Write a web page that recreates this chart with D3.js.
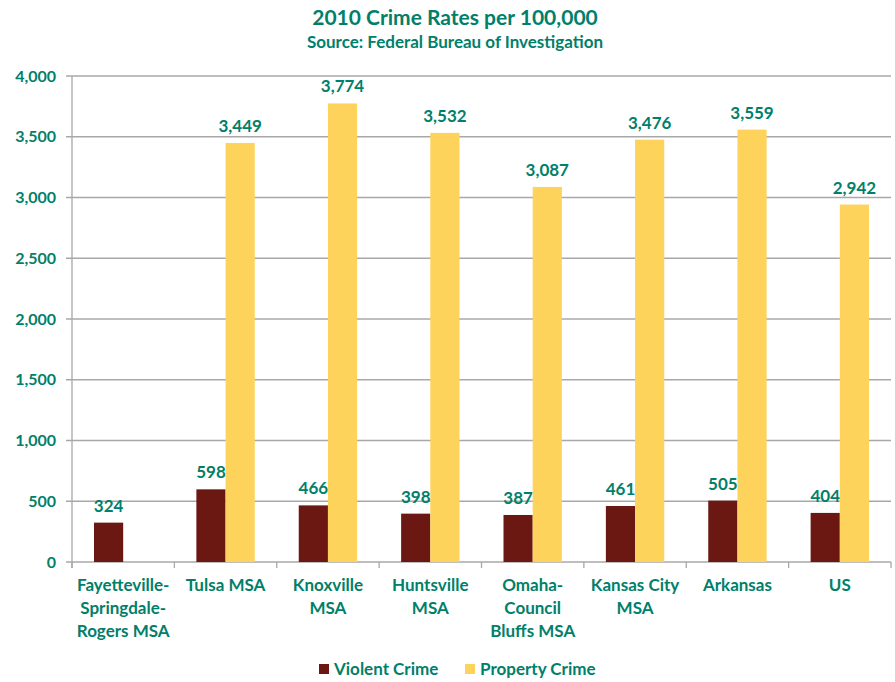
<!DOCTYPE html>
<html>
<head>
<meta charset="utf-8">
<script src="https://cdn.jsdelivr.net/npm/d3@7"></script>
<style>
  body { margin: 0; background: #fff; }
  text { font-family: Lato, "Open Sans", sans-serif; font-weight: bold; fill: #00806a; }
</style>
</head>
<body>
<div id="chart"></div>
<script>
// data
var categories = [
  ["Fayetteville-", "Springdale-", "Rogers MSA"],
  ["Tulsa MSA"],
  ["Knoxville", "MSA"],
  ["Huntsville", "MSA"],
  ["Omaha-", "Council", "Bluffs MSA"],
  ["Kansas City", "MSA"],
  ["Arkansas"],
  ["US"]
];
var violent_crime = [324, 598, 466, 398, 387, 461, 505, 404];
var property_crime = [null, 3449, 3774, 3532, 3087, 3476, 3559, 2942];
var series_names = ["Violent Crime", "Property Crime"];
var y_ticks = [0, 500, 1000, 1500, 2000, 2500, 3000, 3500, 4000];

var svg_width = 895;
var svg_height = 682;
var margin = { top: 76, right: 4, bottom: 120, left: 72 };
var width = svg_width - margin.left - margin.right;
var height = svg_height - margin.top - margin.bottom;

var colors = ["#6b1712", "#fed35c"];
var grid_color = "#a8a8a8";

var svg = d3.select("#chart").append("svg")
  .attr("width", svg_width)
  .attr("height", svg_height);

// titles
svg.append("text")
  .attr("x", 455).attr("y", 25)
  .attr("text-anchor", "middle")
  .style("font-size", "21px")
  .text("2010 Crime Rates per 100,000");
svg.append("text")
  .attr("x", 455).attr("y", 48)
  .attr("text-anchor", "middle")
  .style("font-size", "17px")
  .text("Source: Federal Bureau of Investigation");

var g = svg.append("g")
  .attr("transform", `translate(${margin.left}, ${margin.top})`);

var x0 = d3.scaleBand()
  .domain(d3.range(categories.length))
  .range([0, width])
  .paddingInner(0)
  .paddingOuter(0);

var x1 = d3.scaleBand()
  .domain([0, 1])
  .range([22, x0.bandwidth() - 22]);

var y = d3.scaleLinear()
  .domain([0, 4000])
  .range([height, 0]);

// gridlines
g.selectAll(".grid")
  .data(y_ticks)
  .enter()
  .append("line")
  .attr("x1", -6)
  .attr("x2", width)
  .attr("y1", d => y(d))
  .attr("y2", d => y(d))
  .attr("stroke", grid_color)
  .attr("stroke-width", 1.3);

// y axis line
g.append("line")
  .attr("x1", 0).attr("x2", 0)
  .attr("y1", 0).attr("y2", height + 6)
  .attr("stroke", grid_color)
  .attr("stroke-width", 1.3);

// y tick labels
g.selectAll(".ylab")
  .data(y_ticks)
  .enter()
  .append("text")
  .attr("x", -16)
  .attr("y", d => y(d))
  .attr("dy", "0.35em")
  .attr("text-anchor", "end")
  .style("font-size", "16px")
  .text(d => d3.format(",")(d));

// x tick marks at band boundaries
g.selectAll(".xtick")
  .data(d3.range(categories.length + 1))
  .enter()
  .append("line")
  .attr("x1", d => d * x0.bandwidth())
  .attr("x2", d => d * x0.bandwidth())
  .attr("y1", height)
  .attr("y2", height + 6)
  .attr("stroke", grid_color)
  .attr("stroke-width", 1.3);

// bars
var groups = g.selectAll(".cat")
  .data(categories.map((c, i) => i))
  .enter()
  .append("g")
  .attr("transform", d => `translate(${x0(d)}, 0)`);

[violent_crime, property_crime].forEach(function(series, s) {
  groups.filter(i => series[i] != null)
    .append("rect")
    .attr("x", x1(s))
    .attr("width", x1.bandwidth())
    .attr("y", i => y(series[i]))
    .attr("height", i => height - y(series[i]))
    .attr("fill", colors[s]);

  groups.filter(i => series[i] != null)
    .append("text")
    .attr("x", x1(s) + x1.bandwidth() / 2)
    .attr("y", i => y(series[i]) - 11)
    .attr("text-anchor", "middle")
    .style("font-size", "17px")
    .text(i => d3.format(",")(series[i]));
});

// category labels
groups.each(function(i) {
  var t = d3.select(this).append("text")
    .attr("text-anchor", "middle")
    .style("font-size", "17px");
  categories[i].forEach(function(line, k) {
    t.append("tspan")
      .attr("x", x0.bandwidth() / 2)
      .attr("y", height + 29 + k * 23)
      .text(line);
  });
});

// legend
var legend_x = [319, 465];
series_names.forEach(function(name, s) {
  svg.append("rect")
    .attr("x", legend_x[s])
    .attr("y", 664)
    .attr("width", 10)
    .attr("height", 10)
    .attr("fill", colors[s]);
  svg.append("text")
    .attr("x", legend_x[s] + 15)
    .attr("y", 675)
    .style("font-size", "17px")
    .text(name);
});
</script>
</body>
</html>
